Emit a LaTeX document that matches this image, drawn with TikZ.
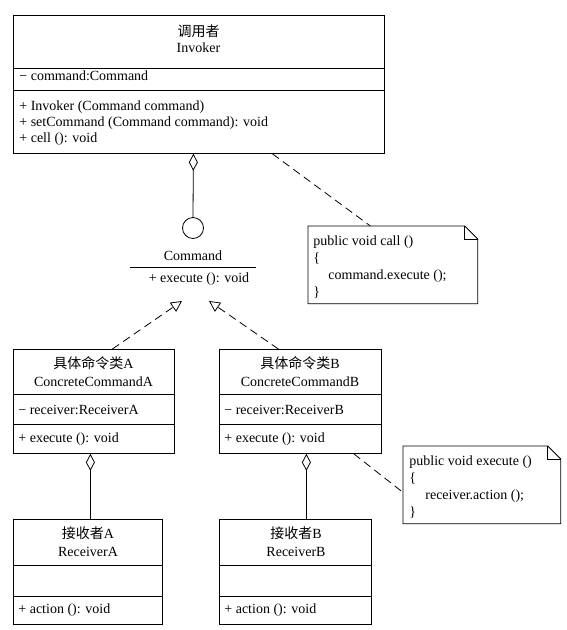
\documentclass[tikz,border=0pt]{standalone}
\usepackage{fontspec}
\setmainfont{Liberation Serif}
\newfontfamily\cjk{Noto Sans CJK SC}
\usetikzlibrary{arrows.meta,calc}
\begin{document}
\begin{tikzpicture}[x=1pt,y=-1pt,
  line width=0.8pt,
  every node/.style={font=\fontsize{14}{17}\selectfont, inner sep=0pt, text height=12pt, text depth=3pt},
  classbox/.style={draw, rectangle, anchor=north west, minimum width=#1},
  notebox/.style={rectangle, anchor=north west},
  txt/.style={},
  ltxt/.style={anchor=west},
  aggr/.style={{Diamond[open,length=17pt,width=9pt]}-},
  real/.style={dash pattern=on 8pt off 5pt, -{Triangle[open,length=11pt,width=11pt]}},
  anchorline/.style={dash pattern=on 8pt off 5pt}
]
\useasboundingbox (0,0) rectangle (567,630);
\fill[white] (0,0) rectangle (567,630);

% Invoker
\node[classbox=371pt, minimum height=138pt] (inv) at (13,15) {};
\draw (inv.west |- 0,68) -- (inv.east |- 0,68);
\draw (inv.west |- 0,90) -- (inv.east |- 0,90);
\node[txt] (invT1) at (198.5,32) {\cjk 调用者};
\node[txt] (invT2) at (198.5,48) {Invoker};
\node[ltxt] (invA1) at (19,76) {− command:Command};
\node[ltxt] (invM1) at (19,106) {+ Invoker (Command command)};
\node[ltxt] (invM2) at (19,122) {+ setCommand (Command command): void};
\node[ltxt] (invM3) at (19,138) {+ cell (): void};

% Command interface
\node[circle, draw, minimum size=21pt, inner sep=0pt, text height=, text depth=] (iface) at (193,228) {};
\draw[aggr] ([xshift=-5.5pt]inv.south) -- (iface.north);
\node[txt] (cmd) at (193,256) {Command};
\draw (130,267) -- (256,267);
\node[txt] (cmdM) at (199,278) {+ execute (): void};
\coordinate (tipA) at (182,301);
\coordinate (tipB) at (209,301);

% Note 1
\node[notebox, minimum width=169pt, minimum height=77pt] (note1) at (308,226) {};
\draw (note1.north west) -- ([xshift=-13pt]note1.north east) -- ([yshift=-13pt]note1.north east) -- (note1.south east) -- (note1.south west) -- cycle;
\draw ([xshift=-13pt]note1.north east) -- ([xshift=-13pt,yshift=-13pt]note1.north east) -- ([yshift=-13pt]note1.north east);
\node[ltxt] (n1a) at (313,241) {public void call ()};
\node[ltxt] (n1b) at (313,258) {\{};
\node[ltxt] (n1c) at (328,275) {command.execute ();};
\node[ltxt] (n1d) at (313,292) {\}};
\draw[anchorline] ([xshift=73.5pt]inv.south) -- ([xshift=-22.5pt]note1.north);

% ConcreteCommandA
\node[classbox=161pt, minimum height=104pt] (ccA) at (13,349) {};
\draw (ccA.west |- 0,394) -- (ccA.east |- 0,394);
\draw (ccA.west |- 0,424) -- (ccA.east |- 0,424);
\node[txt] (ccAT1) at (93.5,364) {{\cjk 具体命令类}A};
\node[txt] (ccAT2) at (93.5,382) {ConcreteCommandA};
\node[ltxt] (ccAA) at (18,410) {− receiver:ReceiverA};
\node[ltxt] (ccAM) at (18,438) {+ execute (): void};

% ConcreteCommandB
\node[classbox=162pt, minimum height=104pt] (ccB) at (219,349) {};
\draw (ccB.west |- 0,394) -- (ccB.east |- 0,394);
\draw (ccB.west |- 0,424) -- (ccB.east |- 0,424);
\node[txt] (ccBT1) at (300,364) {{\cjk 具体命令类}B};
\node[txt] (ccBT2) at (300,382) {ConcreteCommandB};
\node[ltxt] (ccBA) at (224,410) {− receiver:ReceiverB};
\node[ltxt] (ccBM) at (224,438) {+ execute (): void};

\draw[real] ([xshift=18.5pt]ccA.north) -- (tipA);
\draw[real] ([xshift=-22pt]ccB.north) -- (tipB);

% Note 2
\node[notebox, minimum width=157pt, minimum height=77pt] (note2) at (403,446) {};
\draw (note2.north west) -- ([xshift=-13pt]note2.north east) -- ([yshift=-13pt]note2.north east) -- (note2.south east) -- (note2.south west) -- cycle;
\draw ([xshift=-13pt]note2.north east) -- ([xshift=-13pt,yshift=-13pt]note2.north east) -- ([yshift=-13pt]note2.north east);
\node[ltxt] (n2a) at (409,461) {public void execute ()};
\node[ltxt] (n2b) at (409,478) {\{};
\node[ltxt] (n2c) at (425,495) {receiver.action ();};
\node[ltxt] (n2d) at (409,512) {\}};
\draw[anchorline] ([xshift=-28pt]ccB.south east) -- ([yshift=-7.5pt]note2.west);

% ReceiverA
\node[classbox=149pt, minimum height=105pt] (recA) at (13,519) {};
\draw (recA.west |- 0,565) -- (recA.east |- 0,565);
\draw (recA.west |- 0,596) -- (recA.east |- 0,596);
\node[txt] (recAT1) at (88,534) {{\cjk 接收者}A};
\node[txt] (recAT2) at (88,552) {ReceiverA};
\node[ltxt] (recAM) at (18,609) {+ action (): void};

% ReceiverB
\node[classbox=152pt, minimum height=105pt] (recB) at (219,519) {};
\draw (recB.west |- 0,565) -- (recB.east |- 0,565);
\draw (recB.west |- 0,596) -- (recB.east |- 0,596);
\node[txt] (recBT1) at (296,534) {{\cjk 接收者}B};
\node[txt] (recBT2) at (296,552) {ReceiverB};
\node[ltxt] (recBM) at (224,609) {+ action (): void};

\draw[aggr] ([xshift=-3.5pt]ccA.south) -- ([xshift=-3.5pt]ccA.south |- recA.north);
\draw[aggr] ([xshift=6pt]ccB.south) -- ([xshift=6pt]ccB.south |- recB.north);
\end{tikzpicture}
\end{document}
